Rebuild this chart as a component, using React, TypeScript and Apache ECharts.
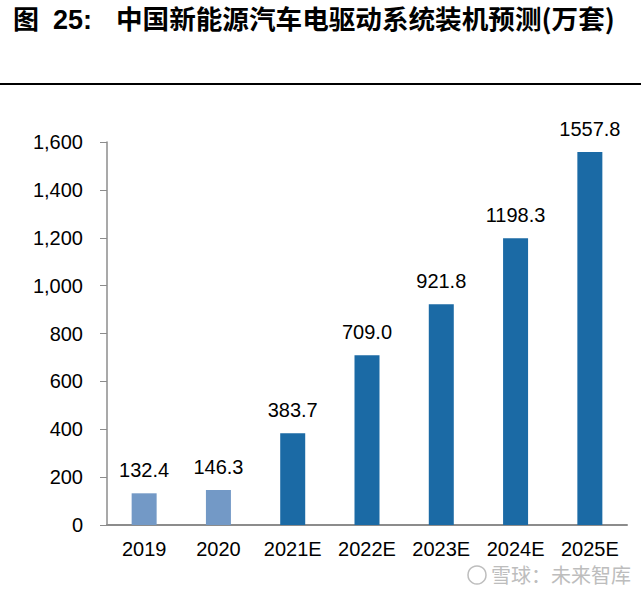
import React, { useEffect, useRef } from "react";
import * as echarts from "echarts";

const categories = ["2019", "2020", "2021E", "2022E", "2023E", "2024E", "2025E"];
const values = [132.4, 146.3, 383.7, 709.0, 921.8, 1198.3, 1557.8];
const actualCount = 2;
const titlePrefix = "图";
const titleNumber = "25:";
const titleMain = "中国新能源汽车电驱动系统装机预测";
const titleUnit = "(万套)";
const watermarkText = "雪球：未来智库";

export default function App() {
  const ref = useRef<HTMLDivElement>(null);
  useEffect(() => {
    if (!ref.current) return;
    const chart = echarts.init(ref.current, null, { renderer: "svg" });
    const font = "'Liberation Sans', Arial, sans-serif";
    const cjk = "'Noto Sans CJK SC', sans-serif";
    chart.setOption({
      animation: false,
      backgroundColor: "#ffffff",
      grid: { left: 107, right: 14, top: 142, bottom: 69 },
      xAxis: {
        type: "category",
        data: categories,
        axisLine: { show: true, lineStyle: { color: "#8c8c8c", width: 2 } },
        axisTick: { show: false },
        axisLabel: { color: "#000", fontSize: 20, fontFamily: font, margin: 14, interval: 0 },
      },
      yAxis: {
        type: "value",
        min: 0,
        max: 1600,
        interval: 200,
        axisLine: { show: true, lineStyle: { color: "#8c8c8c", width: 1.5 } },
        axisTick: { show: true, length: 7, lineStyle: { color: "#8c8c8c" } },
        splitLine: { show: false },
        axisLabel: {
          color: "#000",
          fontSize: 20,
          fontFamily: font,
          margin: 24,
          formatter: (v: number) => v.toLocaleString("en-US"),
        },
      },
      series: [
        {
          type: "bar",
          barWidth: 25,
          data: values.map((v, i) => ({
            value: v,
            itemStyle: { color: i < actualCount ? "#7399c6" : "#1b6aa5" },
          })),
          label: {
            show: true,
            position: "top",
            distance: 13,
            color: "#000",
            fontSize: 20,
            fontFamily: font,
            formatter: (p: any) => Number(p.value).toFixed(1),
          },
        },
      ],
      graphic: [
        {
          type: "text",
          x: 13,
          y: 4,
          style: { text: titlePrefix, fontSize: 26, fontWeight: "bold", fontFamily: cjk, fill: "#000" },
        },
        {
          type: "text",
          x: 53,
          y: 6,
          style: { text: titleNumber, fontSize: 27, fontWeight: "bold", fontFamily: font, fill: "#000" },
        },
        {
          type: "text",
          x: 116,
          y: 4,
          style: { text: titleMain + titleUnit, fontSize: 26.6, fontWeight: "bold", fontFamily: cjk, fill: "#000" },
        },
        {
          type: "rect",
          shape: { x: 0, y: 83, width: 641, height: 2 },
          style: { fill: "#000" },
        },
        {
          type: "circle",
          shape: { cx: 477, cy: 575, r: 9 },
          style: { fill: "none", stroke: "#bdbdbd", lineWidth: 1.5 },
        },
        {
          type: "text",
          x: 491,
          y: 564,
          style: { text: watermarkText, fontSize: 20, fontFamily: cjk, fill: "#bdbdbd" },
        },
      ],
    });
    return () => chart.dispose();
  }, []);
  return <div ref={ref} style={{ width: 641, height: 594, position: "absolute", left: 0, top: 0 }} />;
}
